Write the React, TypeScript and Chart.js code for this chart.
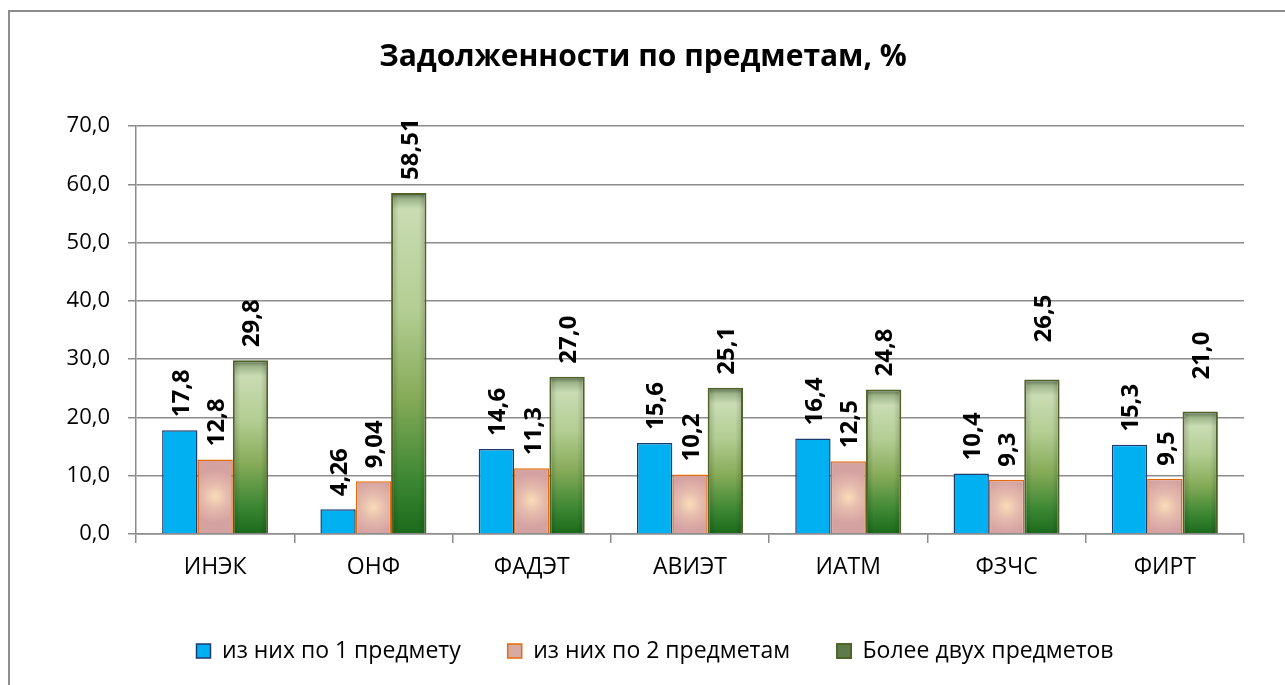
import React, { useEffect, useRef } from "react";
import { Chart, registerables } from "chart.js";

Chart.register(...registerables);

const categories = ["ИНЭК", "ОНФ", "ФАДЭТ", "АВИЭТ", "ИАТМ", "ФЗЧС", "ФИРТ"];
const oneSubject = [17.8, 4.26, 14.6, 15.6, 16.4, 10.4, 15.3];
const twoSubjects = [12.8, 9.04, 11.3, 10.2, 12.5, 9.3, 9.5];
const moreThanTwo = [29.8, 58.51, 27.0, 25.1, 24.8, 26.5, 21.0];
const seriesNames = ["из них по 1 предмету", "из них по 2 предметам", "Более двух предметов"];
const titleText = "Задолженности по предметам, %";
const yMin = 0;
const yMax = 70;
const yStep = 10;

const FONT = '"Open Sans", "Noto Sans", sans-serif';

const fmt = (v: number) => {
  const t = v * 10;
  const s = Math.abs(Math.round(t) - t) < 1e-9 ? v.toFixed(1) : v.toFixed(2);
  return s.replace(".", ",");
};

const fillPlugin = {
  id: "barFills",
  beforeDatasetsDraw(chart: any) {
    const ctx = chart.ctx;
    chart.data.datasets.forEach((_ds: any, di: number) => {
      const meta = chart.getDatasetMeta(di);
      meta.data.forEach((el: any) => {
        const top = Math.min(el.y, el.base);
        const bottom = Math.max(el.y, el.base);
        const h = bottom - top;
        if (di === 1) {
          const cx = el.x;
          const cy = top + h / 2;
          const g = ctx.createRadialGradient(cx, cy, 0, cx, cy, el.width * 0.75);
          g.addColorStop(0, "#FADCB8");
          g.addColorStop(0.45, "#E6BCAE");
          g.addColorStop(1, "#D5A2A2");
          el.options = { ...el.options, backgroundColor: g };
        } else if (di === 2) {
          const g = ctx.createLinearGradient(0, top, 0, bottom);
          g.addColorStop(0, "#55684a");
          g.addColorStop(Math.min(0.05, 6 / h), "#9db489");
          g.addColorStop(Math.min(0.12, 16 / h), "#c9dcb3");
          g.addColorStop(0.35, "#b3cd92");
          g.addColorStop(0.6, "#86ab58");
          g.addColorStop(0.85, "#3a8632");
          g.addColorStop(1, "#1c6a1c");
          el.options = { ...el.options, backgroundColor: g };
        }
      });
    });
  },
  afterDatasetDraw(chart: any, args: any) {
    if (args.index !== 2) return;
    const ctx = chart.ctx;
    const meta = chart.getDatasetMeta(2);
    ctx.save();
    meta.data.forEach((el: any) => {
      const left = el.x - el.width / 2 + 2;
      const w = el.width - 4;
      const top = Math.min(el.y, el.base) + 2;
      const h = Math.abs(el.base - el.y) - 2;
      const g = ctx.createLinearGradient(left, 0, left + w, 0);
      g.addColorStop(0, "rgba(0,0,0,0.14)");
      g.addColorStop(0.18, "rgba(0,0,0,0)");
      g.addColorStop(0.82, "rgba(0,0,0,0)");
      g.addColorStop(1, "rgba(0,0,0,0.14)");
      ctx.fillStyle = g;
      ctx.fillRect(left, top, w, h);
    });
    ctx.restore();
  },
};

const labelPlugin = {
  id: "valueLabels",
  afterDatasetsDraw(chart: any, _args: any, opts: any) {
    const ctx = chart.ctx;
    ctx.save();
    ctx.font = `bold 24px ${FONT}`;
    ctx.fillStyle = "#000";
    ctx.textAlign = "left";
    ctx.textBaseline = "middle";
    chart.data.datasets.forEach((ds: any, di: number) => {
      const meta = chart.getDatasetMeta(di);
      meta.data.forEach((el: any, i: number) => {
        const lift = (opts.gap || 0) + ((opts.extraLift || {})[`${di}:${i}`] || 0);
        ctx.save();
        ctx.translate(el.x + 2, el.y - lift);
        ctx.rotate(-Math.PI / 2);
        ctx.fillText(fmt(ds.data[i]), 0, 0);
        ctx.restore();
      });
    });
    ctx.restore();
  },
};

const titlePlugin = {
  id: "chartHeading",
  afterDraw(chart: any, _args: any, opts: any) {
    const ctx = chart.ctx;
    ctx.save();
    ctx.font = `bold 30px ${FONT}`;
    ctx.fillStyle = "#000";
    ctx.textAlign = "center";
    ctx.textBaseline = "middle";
    ctx.fillText(opts.text, opts.x, opts.y);
    ctx.restore();
  },
};

export default function App() {
  const ref = useRef<HTMLCanvasElement | null>(null);
  useEffect(() => {
    if (!ref.current) return;
    const gridColor = "#8c8c8c";
    const chart = new Chart(ref.current, {
      type: "bar",
      data: {
        labels: categories,
        datasets: [
          {
            label: seriesNames[0],
            data: oneSubject,
            backgroundColor: "#00B0F0",
            borderColor: "#1F3A6E",
            borderWidth: 1.5,
          },
          {
            label: seriesNames[1],
            data: twoSubjects,
            backgroundColor: "#D9A9A3",
            borderColor: "#E46C0A",
            borderWidth: 1.5,
          },
          {
            label: seriesNames[2],
            data: moreThanTwo,
            backgroundColor: "#5E7A48",
            borderColor: "#4F6228",
            borderWidth: 2,
          },
        ],
      },
      options: {
        animation: false,
        responsive: false,
        maintainAspectRatio: false,
        layout: { padding: { left: 66, right: 41, top: 126, bottom: 12.5 } },
        datasets: { bar: { barPercentage: 1, categoryPercentage: 0.67 } },
        scales: {
          x: {
            type: "category",
            offset: true,
            grid: {
              offset: true,
              drawOnChartArea: false,
              drawTicks: true,
              tickLength: 9,
              color: gridColor,
              lineWidth: 1.5,
            },
            border: { color: gridColor, width: 1.5 },
            ticks: { color: "#000", font: { family: FONT, size: 23 }, padding: 11, maxRotation: 0 },
            afterFit: (s: any) => {
              s.height = 58.5;
            },
          },
          y: {
            min: yMin,
            max: yMax,
            ticks: {
              stepSize: yStep,
              color: "#000",
              font: { family: FONT, size: 22 },
              padding: 18,
              callback: (v: any) => Number(v).toFixed(1).replace(".", ","),
            },
            grid: { color: gridColor, lineWidth: 1.5, tickLength: 8, drawTicks: true },
            border: { color: gridColor, width: 1.5 },
            afterFit: (s: any) => {
              s.width = 70;
            },
          },
        },
        plugins: {
          title: { display: false },
          chartHeading: { text: titleText, x: 643, y: 57 },
          legend: {
            display: true,
            position: "bottom",
            labels: {
              color: "#000",
              font: { family: FONT, size: 23 },
              boxWidth: 14,
              boxHeight: 14,
              padding: 47,
            },
          },
          tooltip: { enabled: false },
          valueLabels: { gap: 13, extraLift: { "2:5": 24, "2:6": 19 } },
        } as any,
      },
      plugins: [fillPlugin, labelPlugin, titlePlugin],
    });
    return () => chart.destroy();
  }, []);

  return (
    <div
      style={{
        position: "absolute",
        left: 0,
        top: 0,
        width: 1285,
        height: 685,
        overflow: "hidden",
        background: "#fff",
      }}
    >
      <div
        style={{
          position: "absolute",
          left: 8,
          top: 10,
          width: 1400,
          height: 800,
          border: "2px solid #8d8d8d",
          boxSizing: "border-box",
        }}
      />
      <canvas
        ref={ref}
        width={1285}
        height={685}
        style={{ position: "absolute", left: 0, top: 0, display: "block" }}
      />
    </div>
  );
}
